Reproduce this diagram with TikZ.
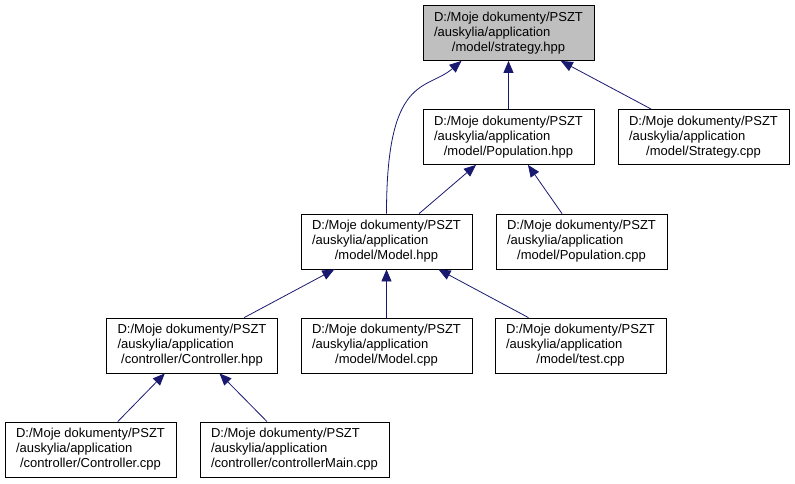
\documentclass[tikz,border=0pt]{standalone}
\usepackage{fontspec}
\setmainfont{Liberation Sans}
\usetikzlibrary{arrows.meta}
\definecolor{edgeblue}{HTML}{191970}
\definecolor{focusgray}{HTML}{BFBFBF}
\newcommand{\srcfile}[1]{\begin{tabular}{@{}l@{}}D:/Moje dokumenty/PSZT\\/auskylia/application\\\multicolumn{1}{@{}c@{}}{#1}\end{tabular}}
\tikzstyle{depgraph}=[x=1pt, y=-1pt, font=\fontsize{13}{15}\selectfont]
\tikzstyle{file}=[draw=black, line width=0.8pt, fill=white, minimum width=171pt, minimum height=55pt, inner xsep=11pt, inner ysep=4pt]
\tikzstyle{focus}=[fill=focusgray]
\tikzstyle{dep}=[color=edgeblue, line width=0.8pt, -{Triangle[length=12pt,width=10pt]}]

\begin{document}
\begin{tikzpicture}[depgraph]
  \useasboundingbox (0,0) rectangle (795,483);
  \node[file,focus] (strat) at (508.5,33) {\srcfile{/model/strategy.hpp}};
  \node[file] (pophpp) at (508.5,137) {\srcfile{/model/Population.hpp}};
  \node[file] (stratcpp) at (703.5,137) {\srcfile{/model/Strategy.cpp}};
  \node[file] (modelhpp) at (386.5,241.5) {\srcfile{/model/Model.hpp}};
  \node[file] (popcpp) at (581.5,241.5) {\srcfile{/model/Population.cpp}};
  \node[file] (ctrlhpp) at (192,345.5) {\srcfile{/controller/Controller.hpp}};
  \node[file] (modelcpp) at (386.5,345.5) {\srcfile{/model/Model.cpp}};
  \node[file] (testcpp) at (580.5,345.5) {\srcfile{/model/test.cpp}};
  \node[file] (ctrlcpp) at (90.5,449.5) {\srcfile{/controller/Controller.cpp}};
  \node[file] (ctrlmain) at (294.5,449.5) {\srcfile{/controller/controllerMain.cpp}};
  \path[dep] (pophpp) edge (strat);
  \path[dep] (stratcpp) edge (strat);
  \draw[dep] (modelhpp.north) .. controls +(0,-140) and +(-35,30) .. ([xshift=-47pt]strat.south);
  \path[dep] (modelhpp) edge (pophpp);
  \path[dep] (popcpp) edge (pophpp);
  \path[dep] (ctrlhpp) edge (modelhpp);
  \path[dep] (modelcpp) edge (modelhpp);
  \path[dep] (testcpp) edge (modelhpp);
  \path[dep] (ctrlcpp) edge (ctrlhpp);
  \path[dep] (ctrlmain) edge (ctrlhpp);
\end{tikzpicture}
\end{document}
